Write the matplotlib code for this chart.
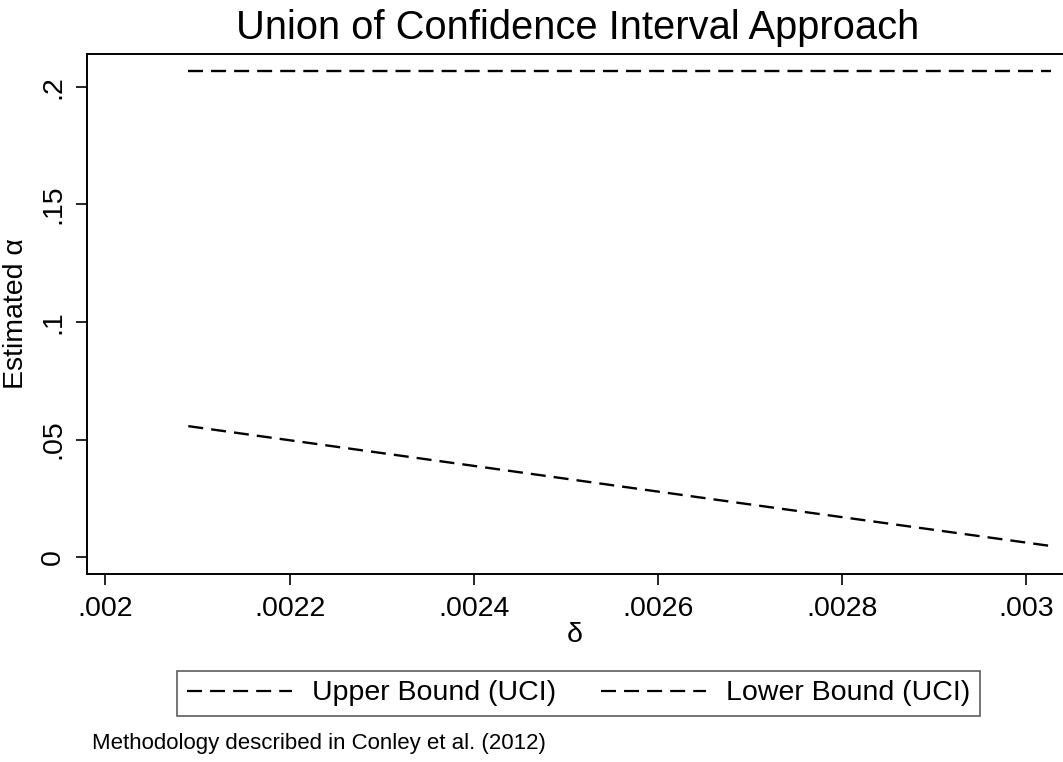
import matplotlib
matplotlib.use("Agg")
import matplotlib.pyplot as plt
from matplotlib.lines import Line2D

# Values
delta = [0.00209, 0.00240, 0.00270, 0.003027]
upper_uci = [0.2068, 0.2068, 0.2068, 0.2068]
lower_uci = [0.0557, 0.0388, 0.0224, 0.0047]

x_ticks = [0.002, 0.0022, 0.0024, 0.0026, 0.0028, 0.003]
x_tick_labels = [".002", ".0022", ".0024", ".0026", ".0028", ".003"]
y_ticks = [0, 0.05, 0.1, 0.15, 0.2]
y_tick_labels = ["0", ".05", ".1", ".15", ".2"]

plt.rcParams['font.family'] = ['Liberation Sans', 'DejaVu Sans']
plt.rcParams['lines.scale_dashes'] = False

fig = plt.figure(figsize=(10.63, 7.62), dpi=100)
ax = fig.add_axes([87 / 1063, 1 - 574 / 762, 1 - 87 / 1063, (574 - 54) / 762])

dash = (10.8, 5.8)
ax.plot(delta, upper_uci, color='k', lw=1.7, dashes=dash)
ax.plot(delta, lower_uci, color='k', lw=1.7, dashes=dash)

ax.set(xlim=[0.00198, 0.00304], ylim=[-0.0072, 0.214])
ax.set_xticks(x_ticks)
ax.set_xticklabels(x_tick_labels)
ax.set_yticks(y_ticks)
ax.set_yticklabels(y_tick_labels, rotation=90, va='center')
ax.tick_params(axis='both', labelsize=20.5, length=8, width=1.2, direction='out')
ax.tick_params(axis='x', pad=8)
ax.tick_params(axis='y', pad=7)

for side in ['left', 'bottom', 'top']:
    ax.spines[side].set_linewidth(1.4)
ax.spines['right'].set_visible(False)

ax.set_xlabel("δ", fontsize=20.5, labelpad=0)
ax.set_ylabel("Estimated α", fontsize=20.5, labelpad=8)

fig.text(578 / 1063, 1 - 28 / 762, "Union of Confidence Interval Approach",
         ha='center', va='center', fontsize=28.7)

# Legend below the plot, as in Stata output
handles = [Line2D([], [], color='k', lw=1.6, dashes=dash),
           Line2D([], [], color='k', lw=1.6, dashes=dash)]
leg = fig.legend(handles, ["Upper Bound (UCI)", "Lower Bound (UCI)"],
                 loc='center', bbox_to_anchor=(578.5 / 1063, 1 - 693.5 / 762),
                 ncol=2, fontsize=20.5, frameon=True, fancybox=False,
                 handlelength=3.7, handletextpad=0.7, columnspacing=1.55,
                 borderpad=0.35)
leg.get_frame().set_edgecolor('#333333')
leg.get_frame().set_linewidth(1.2)

fig.text(92 / 1063, 1 - 744 / 762, "Methodology described in Conley et al. (2012)",
         ha='left', va='center', fontsize=16)

plt.savefig("out.png", dpi=100)
